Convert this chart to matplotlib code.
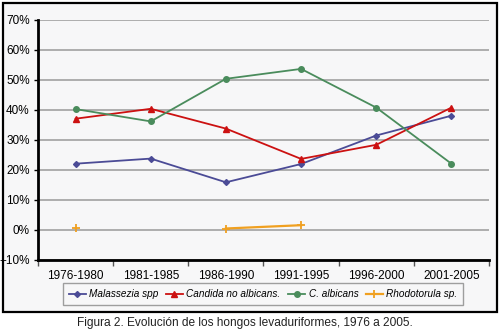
import numpy as np
import matplotlib.pyplot as plt
from matplotlib.patches import Rectangle
from matplotlib.ticker import FixedLocator, PercentFormatter

periodos = ['1976-1980', '1981-1985', '1986-1990', '1991-1995', '1996-2000', '2001-2005']
malassezia = [22.1, 23.8, 15.9, 22.0, 31.5, 38.1]
candida_no_alb = [37.1, 40.4, 33.8, 23.7, 28.4, 40.8]
c_albicans = [40.3, 36.2, 50.4, 53.7, 40.8, 22.1]
rhodotorula = [0.7, np.nan, 0.5, 1.6, np.nan, np.nan]

narrow = ['Liberation Sans Narrow', 'Liberation Sans', 'DejaVu Sans']

fig = plt.figure(figsize=(5, 3.33), dpi=100)
fig.patch.set_facecolor('white')

# marco exterior
fig.patches.append(Rectangle((3 / 500, 1 - 312 / 333), 494 / 500, 309 / 333,
                             transform=fig.transFigure, facecolor='#f7f7f8',
                             edgecolor='black', linewidth=1.6, zorder=-5))

ax = fig.add_axes([38 / 500, 1 - 260 / 333, 451 / 500, 240 / 333])
ax.set_facecolor('#f7f7f8')
x = np.arange(len(periodos))

ax.plot(x, malassezia, color='#4b4b96', marker='D', markersize=3, lw=1.3,
        label='Malassezia spp')
ax.plot(x, candida_no_alb, color='#cc1111', marker='^', markersize=4.5, lw=1.3,
        label='Candida no albicans.')
ax.plot(x, c_albicans, color='#4a8c5c', marker='o', markersize=4, lw=1.3,
        label='C. albicans')
ax.plot(x, rhodotorula, color='#f0a020', marker='+', markersize=6, lw=1.6,
        mew=1.3, label='Rhodotorula sp.')

ax.set_xlim(-0.5, len(periodos) - 0.5)
ax.set_ylim(-10, 70)
ax.set_yticks(range(-10, 71, 10))
ax.yaxis.set_major_formatter(PercentFormatter(decimals=0))
ax.set_xticks(x)
ax.set_xticklabels(periodos)
ax.xaxis.set_minor_locator(FixedLocator(np.arange(-0.5, len(periodos), 1)))
ax.tick_params(axis='x', which='major', length=0, pad=7)
ax.tick_params(axis='x', which='minor', length=4, width=1, color='#555555')
ax.tick_params(axis='y', length=3, width=1, pad=3)
for lab in ax.get_xticklabels() + ax.get_yticklabels():
    lab.set_fontfamily(narrow)
    lab.set_fontsize(8.5)

ax.grid(axis='y', color='#a8a8a8', lw=1.3)
ax.set_axisbelow(True)
for s in ['top', 'right']:
    ax.spines[s].set_visible(False)
ax.spines['left'].set_linewidth(2)
ax.spines['bottom'].set_linewidth(2)

leg = fig.legend(loc='center', bbox_to_anchor=(263 / 500, 1 - 294 / 333), ncol=4,
                 frameon=True, fancybox=False, edgecolor='#888888', facecolor='#f7f7f8',
                 prop={'family': narrow, 'style': 'italic', 'size': 7.2},
                 handlelength=1.7, handletextpad=0.35, columnspacing=0.75,
                 borderpad=0.6)
leg.get_frame().set_linewidth(1)

fig.text(0.49, 1 - 323 / 333, 'Figura 2. Evolución de los hongos levaduriformes, 1976 a 2005.',
         ha='center', va='center', fontsize=8.6, family=['Liberation Sans', 'DejaVu Sans'],
         color='#222222')

fig.savefig('out.png', dpi=100)
